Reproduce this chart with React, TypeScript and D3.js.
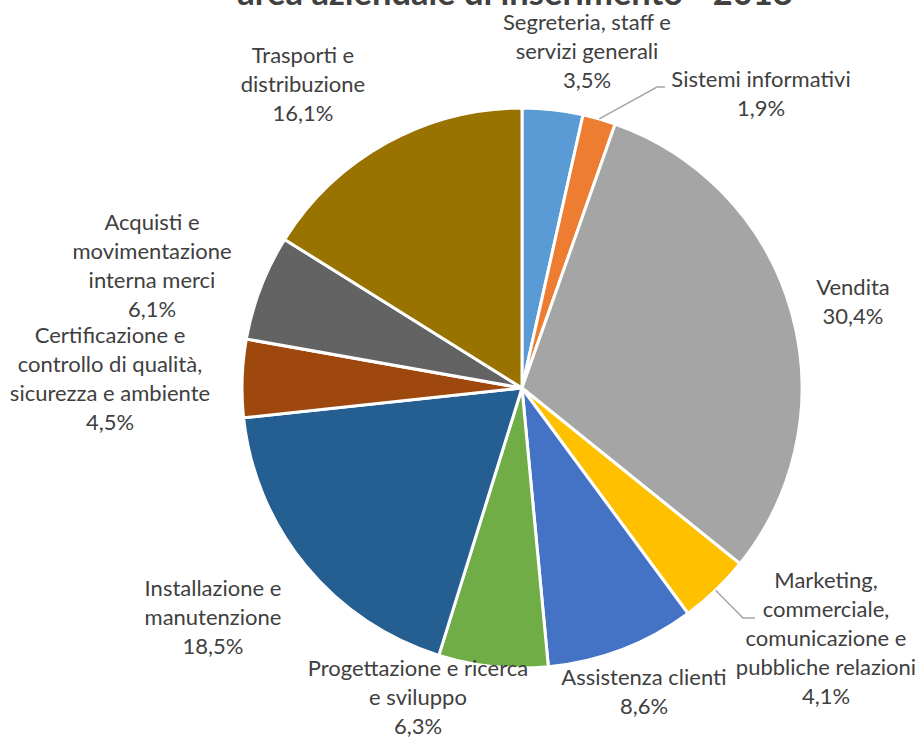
import React from "react";
import * as d3 from "d3";

const categories = [
  "Segreteria, staff e servizi generali",
  "Sistemi informativi",
  "Vendita",
  "Marketing, commerciale, comunicazione e pubbliche relazioni",
  "Assistenza clienti",
  "Progettazione e ricerca e sviluppo",
  "Installazione e manutenzione",
  "Certificazione e controllo di qualità, sicurezza e ambiente",
  "Acquisti e movimentazione interna merci",
  "Trasporti e distribuzione",
];
const values = [3.5, 1.9, 30.4, 4.1, 8.6, 6.3, 18.5, 4.5, 6.1, 16.1];
const valueLabels = ["3,5%", "1,9%", "30,4%", "4,1%", "8,6%", "6,3%", "18,5%", "4,5%", "6,1%", "16,1%"];
const labelLines = [
  ["Segreteria, staff e", "servizi generali"],
  ["Sistemi informativi"],
  ["Vendita"],
  ["Marketing,", "commerciale,", "comunicazione e", "pubbliche relazioni"],
  ["Assistenza clienti"],
  ["Progettazione e ricerca", "e sviluppo"],
  ["Installazione e", "manutenzione"],
  ["Certificazione e", "controllo di qualità,", "sicurezza e ambiente"],
  ["Acquisti e", "movimentazione", "interna merci"],
  ["Trasporti e", "distribuzione"],
];
const colors = ["#5B9BD5", "#ED7D31", "#A5A5A5", "#FFC000", "#4472C4", "#70AD47", "#255E91", "#9E480E", "#636363", "#997300"];
const titleText = "area aziendale di inserimento - 2018";

// layout: label block center x and first-line baseline
const labelPos: [number, number][] = [
  [587, 30],
  [761, 87],
  [853, 295],
  [826, 588],
  [644, 685],
  [418, 676],
  [213, 596],
  [110, 343],
  [152, 230],
  [303, 63],
];
// leader line elbows (only for labels that have leader lines)
const leaders: Record<number, [number, number][]> = {
  1: [[657, 87], [665, 87]],
  3: [[743, 618], [755, 618]],
};

export default function App() {
  const W = 923, H = 738;
  const cx = 522, cy = 388, r = 280;
  const pie = d3.pie<number>().sort(null).value((d) => d)(values);
  const arc = d3.arc<d3.PieArcDatum<number>>().innerRadius(0).outerRadius(r);
  const lh = 29;
  const font = "Lato, 'Open Sans', sans-serif";
  return (
    <svg width={W} height={H} style={{ position: "absolute", left: 0, top: 0 }}>
      <rect width={W} height={H} fill="#fff" />
      <text x={515} y={5} textAnchor="middle" fontFamily={font} fontWeight="bold" fontSize={34.5} fill="#404040">
        {titleText}
      </text>
      <g transform={`translate(${cx},${cy})`}>
        {pie.map((p, i) => (
          <path key={i} d={arc(p) || ""} fill={colors[i]} stroke="#fff" strokeWidth={3} strokeLinejoin="round" />
        ))}
      </g>
      {pie.map((p, i) => {
        const L = leaders[i];
        if (!L) return null;
        const a = (p.startAngle + p.endAngle) / 2;
        const sx = cx + r * Math.sin(a);
        const sy = cy - r * Math.cos(a);
        const pts = [[sx, sy], ...L];
        return <polyline key={"l" + i} points={pts.map((q) => q.join(",")).join(" ")} fill="none" stroke="#A6A6A6" strokeWidth={1.5} />;
      })}
      {labelLines.map((lines, i) => {
        const [x, y] = labelPos[i];
        const all = [...lines, valueLabels[i]];
        return (
          <text key={"t" + i} fontFamily={font} fontSize={22} fill="#404040" textAnchor="middle">
            {all.map((s, j) => (
              <tspan key={j} x={x} y={y + j * lh}>
                {s}
              </tspan>
            ))}
          </text>
        );
      })}
    </svg>
  );
}
